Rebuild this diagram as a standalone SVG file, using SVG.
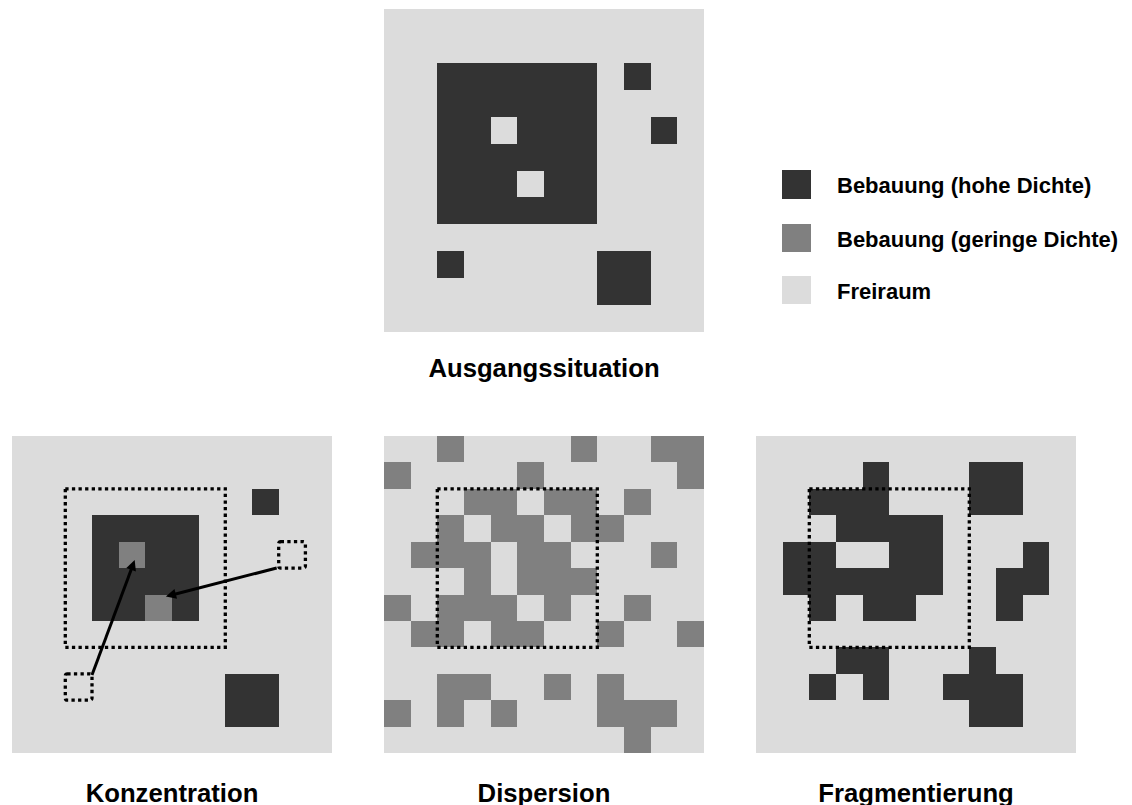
<svg xmlns="http://www.w3.org/2000/svg" width="1132" height="805" viewBox="0 0 1132 805">
<style>
  .bg{fill:#dcdcdc}
  .hi{fill:#333333}
  .lo{fill:#808080}
  .fr{fill:#dcdcdc}
  .cells{shape-rendering:crispEdges}
  .dot{fill:none;stroke:#000;stroke-width:3.3;stroke-dasharray:3.3 3.3}
  .arr{fill:none;stroke:#000;stroke-width:3;marker-end:url(#ah)}
  .lbl{font-family:"Liberation Sans",Arial,sans-serif;font-weight:bold;font-size:25.7px;fill:#000;text-anchor:middle}
  .leg{font-family:"Liberation Sans",Arial,sans-serif;font-weight:bold;font-size:22px;fill:#000}
</style>
<defs>
  <marker id="ah" viewBox="0 0 10 10" refX="5" refY="5" markerWidth="4" markerHeight="3.4" orient="auto" markerUnits="strokeWidth">
    <path d="M0,0 L10,5 L0,10 z" fill="#000"/>
  </marker>
</defs>
<rect width="1132" height="805" fill="#fff"/>

<g id="ausgangssituation">
  <rect class="bg" x="384" y="9" width="320" height="323"/>
  <g class="cells" transform="translate(384,9) scale(26.6667,26.9167)">
    <rect class="hi" x="2" y="2" width="6" height="6"/>
    <rect class="fr" x="4" y="4" width="1" height="1"/>
    <rect class="fr" x="5" y="6" width="1" height="1"/>
    <rect class="hi" x="9" y="2" width="1" height="1"/>
    <rect class="hi" x="10" y="4" width="1" height="1"/>
    <rect class="hi" x="2" y="9" width="1" height="1"/>
    <rect class="hi" x="8" y="9" width="2" height="2"/>
  </g>
  <text class="lbl" x="544" y="377">Ausgangssituation</text>
</g>

<g id="legend">
  <rect class="hi" x="782" y="170" width="29" height="29"/>
  <text class="leg" x="837" y="193">Bebauung (hohe Dichte)</text>
  <rect class="lo" x="782" y="224" width="29" height="28"/>
  <text class="leg" x="837" y="247">Bebauung (geringe Dichte)</text>
  <rect class="fr" x="782" y="276" width="29" height="28"/>
  <text class="leg" x="837" y="299">Freiraum</text>
</g>

<g id="konzentration">
  <rect class="bg" x="12" y="436" width="320" height="317"/>
  <g class="cells" transform="translate(12,436) scale(26.6667,26.4167)">
    <rect class="hi" x="9" y="2" width="1" height="1"/>
    <rect class="hi" x="3" y="3" width="4" height="4"/>
    <rect class="lo" x="4" y="4" width="1" height="1"/>
    <rect class="lo" x="5" y="6" width="1" height="1"/>
    <rect class="hi" x="8" y="9" width="2" height="2"/>
  </g>
  <rect class="dot" x="65.3" y="488.8" width="160" height="158.5"/>
  <rect class="dot" x="278.7" y="541.7" width="26.7" height="26.4" rx="2"/>
  <rect class="dot" x="65.3" y="673.8" width="26.7" height="26.4" rx="2"/>
  <text class="lbl" x="172" y="802">Konzentration</text>
</g>

<g id="dispersion">
  <rect class="bg" x="384" y="436" width="320" height="317"/>
  <g class="cells lo" transform="translate(384,436) scale(26.6667,26.4167)">
    <rect x="2" y="0" width="1" height="1"/><rect x="7" y="0" width="1" height="1"/><rect x="10" y="0" width="2" height="1"/>
    <rect x="0" y="1" width="1" height="1"/><rect x="5" y="1" width="1" height="1"/><rect x="11" y="1" width="1" height="1"/>
    <rect x="3" y="2" width="2" height="1"/><rect x="6" y="2" width="2" height="1"/><rect x="9" y="2" width="1" height="1"/>
    <rect x="2" y="3" width="1" height="1"/><rect x="4" y="3" width="2" height="1"/><rect x="7" y="3" width="2" height="1"/>
    <rect x="1" y="4" width="3" height="1"/><rect x="5" y="4" width="2" height="1"/><rect x="10" y="4" width="1" height="1"/>
    <rect x="3" y="5" width="1" height="1"/><rect x="5" y="5" width="3" height="1"/>
    <rect x="0" y="6" width="1" height="1"/><rect x="2" y="6" width="3" height="1"/><rect x="6" y="6" width="1" height="1"/><rect x="9" y="6" width="1" height="1"/>
    <rect x="1" y="7" width="2" height="1"/><rect x="4" y="7" width="2" height="1"/><rect x="8" y="7" width="1" height="1"/><rect x="11" y="7" width="1" height="1"/>
    <rect x="2" y="9" width="2" height="1"/><rect x="6" y="9" width="1" height="1"/><rect x="8" y="9" width="1" height="1"/>
    <rect x="0" y="10" width="1" height="1"/><rect x="2" y="10" width="1" height="1"/><rect x="4" y="10" width="1" height="1"/><rect x="8" y="10" width="3" height="1"/>
    <rect x="9" y="11" width="1" height="1"/>
  </g>
  <rect class="dot" x="437.3" y="488.8" width="160" height="158.5"/>
  <text class="lbl" x="544" y="802">Dispersion</text>
</g>

<g id="fragmentierung">
  <rect class="bg" x="756" y="436" width="320" height="317"/>
  <g class="cells hi" transform="translate(756,436) scale(26.6667,26.4167)">
    <rect x="4" y="1" width="1" height="1"/><rect x="8" y="1" width="2" height="1"/>
    <rect x="2" y="2" width="3" height="1"/><rect x="8" y="2" width="2" height="1"/>
    <rect x="3" y="3" width="4" height="1"/>
    <rect x="1" y="4" width="2" height="1"/><rect x="5" y="4" width="2" height="1"/><rect x="10" y="4" width="1" height="1"/>
    <rect x="1" y="5" width="6" height="1"/><rect x="9" y="5" width="2" height="1"/>
    <rect x="2" y="6" width="1" height="1"/><rect x="4" y="6" width="2" height="1"/><rect x="9" y="6" width="1" height="1"/>
    <rect x="3" y="8" width="2" height="1"/><rect x="8" y="8" width="1" height="1"/>
    <rect x="2" y="9" width="1" height="1"/><rect x="4" y="9" width="1" height="1"/><rect x="7" y="9" width="3" height="1"/>
    <rect x="8" y="10" width="2" height="1"/>
  </g>
  <rect class="dot" x="809.3" y="488.8" width="160" height="158.5"/>
  <text class="lbl" x="916" y="802">Fragmentierung</text>
</g>

<g id="connectors">
  <line class="arr" x1="92" y1="675" x2="132.9" y2="564.9"/>
  <line class="arr" x1="276.7" y1="568" x2="170.8" y2="595.2"/>
</g>
</svg>
